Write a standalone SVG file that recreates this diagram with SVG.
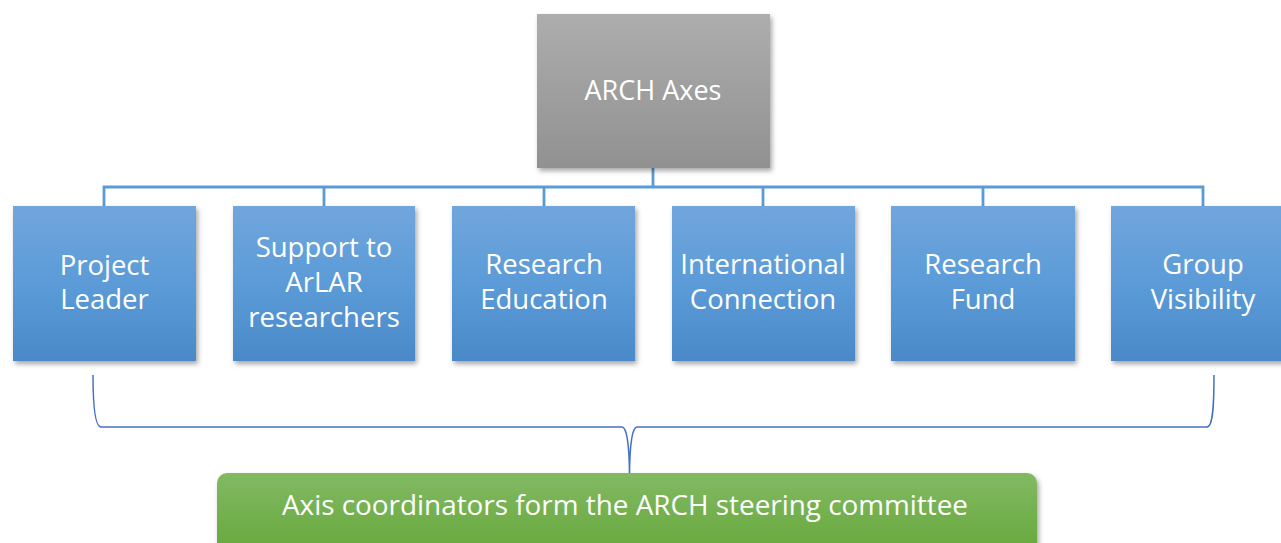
<svg xmlns="http://www.w3.org/2000/svg" width="1281" height="543" viewBox="0 0 1281 543">
<style>
.t{font-family:"Open Sans","Noto Sans","Liberation Sans",sans-serif;font-size:27.5px;fill:#fff;text-anchor:middle}
.conn{fill:none;stroke:#5b9bd5;stroke-width:2.8}
.brace{fill:none;stroke:#4472c4;stroke-width:1.5}
.blue{fill:url(#gb);filter:url(#sh)}
</style>
<defs>
<linearGradient id="gb" x1="0" y1="0" x2="0" y2="1"><stop offset="0" stop-color="#71a6dc"/><stop offset="0.5" stop-color="#5b9bd8"/><stop offset="1" stop-color="#4a89c8"/></linearGradient>
<linearGradient id="gg" x1="0" y1="0" x2="0" y2="1"><stop offset="0" stop-color="#adadad"/><stop offset="1" stop-color="#919191"/></linearGradient>
<linearGradient id="gr" x1="0" y1="0" x2="0" y2="1"><stop offset="0" stop-color="#82b963"/><stop offset="1" stop-color="#63a637"/></linearGradient>
<filter id="sh" x="-10%" y="-10%" width="130%" height="130%"><feDropShadow dx="2" dy="3" stdDeviation="2.5" flood-color="#000" flood-opacity="0.35"/></filter>
</defs>
<g id="connectors">
<path class="conn" d="M653 168V187M104 206V187H1203V206M324 187V206M544 187V206M763 187V206M983 187V206"/>
<path class="brace" d="M93 375C93 405 95 427 101 427H622C626 427 629.5 440 629.5 479C629.5 440 633 427 637 427H1207C1213 427 1214 405 1214 375"/>
</g>
<g id="root"><rect x="537" y="14" width="233" height="154" fill="url(#gg)" filter="url(#sh)"/><text class="t" x="653" y="100" style="font-size:27px">ARCH Axes</text></g>
<g id="n1"><rect class="blue" x="13" y="206" width="183" height="155"/><text class="t" x="104.5" y="275">Project</text><text class="t" x="104.5" y="309">Leader</text></g>
<g id="n2"><rect class="blue" x="233" y="206" width="182" height="155"/><text class="t" x="324" y="257">Support to</text><text class="t" x="324" y="292">ArLAR</text><text class="t" x="324" y="327">researchers</text></g>
<g id="n3"><rect class="blue" x="452" y="206" width="183" height="155"/><text class="t" x="544" y="274">Research</text><text class="t" x="544" y="309">Education</text></g>
<g id="n4"><rect class="blue" x="672" y="206" width="183" height="155"/><text class="t" x="763" y="274">International</text><text class="t" x="763" y="309">Connection</text></g>
<g id="n5"><rect class="blue" x="891" y="206" width="184" height="155"/><text class="t" x="983" y="274">Research</text><text class="t" x="983" y="309">Fund</text></g>
<g id="n6"><rect class="blue" x="1111" y="206" width="183" height="155"/><text class="t" x="1203" y="274">Group</text><text class="t" x="1203" y="309">Visibility</text></g>
<g id="committee"><rect x="217" y="473" width="820" height="90" rx="10" fill="url(#gr)" filter="url(#sh)"/><text class="t" x="625" y="515" style="font-size:27px" textLength="686" lengthAdjust="spacingAndGlyphs">Axis coordinators form the ARCH steering committee</text></g>
</svg>
